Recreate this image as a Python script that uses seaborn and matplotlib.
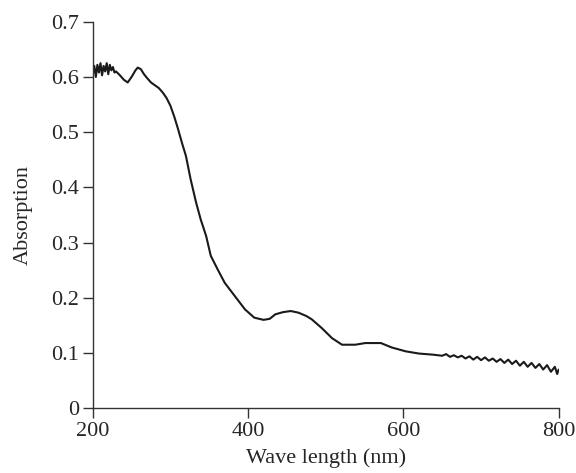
import pandas as pd
import seaborn as sns
import matplotlib.pyplot as plt

# absorption spectrum
wavelength = [200, 202, 204, 206, 208, 210, 212, 214, 216, 218, 220, 222, 224, 226, 228, 230,
              235, 240, 245, 250, 255, 258, 262, 266, 270, 275, 280, 285, 290, 295, 300,
              305, 310, 315, 320, 326, 333, 339, 346, 352, 361, 370, 383, 396, 408, 420,
              428, 435, 445, 455, 465, 475, 482, 495, 508, 521, 538, 551, 571, 585, 603,
              620, 638, 650, 655, 660, 665, 670, 675, 680, 685, 690, 695, 700, 705, 710,
              715, 720, 725, 730, 735, 740, 745, 750, 755, 760, 765, 770, 775, 780, 785,
              790, 795, 798, 800]
absorption = [0.605, 0.620, 0.600, 0.622, 0.608, 0.625, 0.603, 0.620, 0.610, 0.625, 0.605,
              0.622, 0.612, 0.618, 0.608, 0.610,
              0.603, 0.595, 0.590, 0.600, 0.612, 0.617, 0.614, 0.605, 0.598, 0.590, 0.585,
              0.580, 0.572, 0.562, 0.548,
              0.528, 0.505, 0.480, 0.457, 0.415, 0.373, 0.342, 0.312, 0.276, 0.251, 0.227,
              0.203, 0.179, 0.164, 0.160,
              0.162, 0.170, 0.174, 0.176, 0.173, 0.167, 0.161, 0.145, 0.127, 0.115, 0.115,
              0.118, 0.118, 0.110, 0.103,
              0.099, 0.097, 0.095, 0.098, 0.093, 0.096, 0.092, 0.095, 0.090, 0.094, 0.088,
              0.093, 0.087, 0.092, 0.086,
              0.090, 0.084, 0.089, 0.082, 0.088, 0.080, 0.086, 0.077, 0.084, 0.075, 0.082,
              0.073, 0.080, 0.070, 0.078,
              0.066, 0.075, 0.062, 0.070]

x_ticks = [200, 400, 600, 800]
y_ticks = [0, 0.1, 0.2, 0.3, 0.4, 0.5, 0.6, 0.7]

df = pd.DataFrame({'wl': wavelength, 'abs': absorption})

sns.set_style('ticks')
plt.rcParams['font.family'] = ['Liberation Serif', 'DejaVu Serif']

fig = plt.figure(figsize=(5.76, 4.73), dpi=100)
ax = fig.add_axes([0.161, 0.137, 0.809, 0.817])

sns.lineplot(data=df, x='wl', y='abs', ax=ax, color='#1a1a1a', linewidth=1.5,
             estimator=None, sort=False)

ax.set_xlim(200, 800)
ax.set_ylim(0, 0.7)
ax.set_xticks(x_ticks)
ax.set_yticks(y_ticks)
ax.set_yticklabels(['0'] + [f'{v:.1f}' for v in y_ticks[1:]])
ax.set_xlabel('Wave length (nm)', fontsize=16, labelpad=5)
ax.set_ylabel('Absorption', fontsize=16, labelpad=13)
ax.tick_params(labelsize=16, length=7, width=1, color='#333333', direction='out', pad=3)
ax.margins(0)
sns.despine(ax=ax)
for s in ['left', 'bottom']:
    ax.spines[s].set_linewidth(1)
    ax.spines[s].set_color('#333333')

fig.savefig('out.png', dpi=100)
